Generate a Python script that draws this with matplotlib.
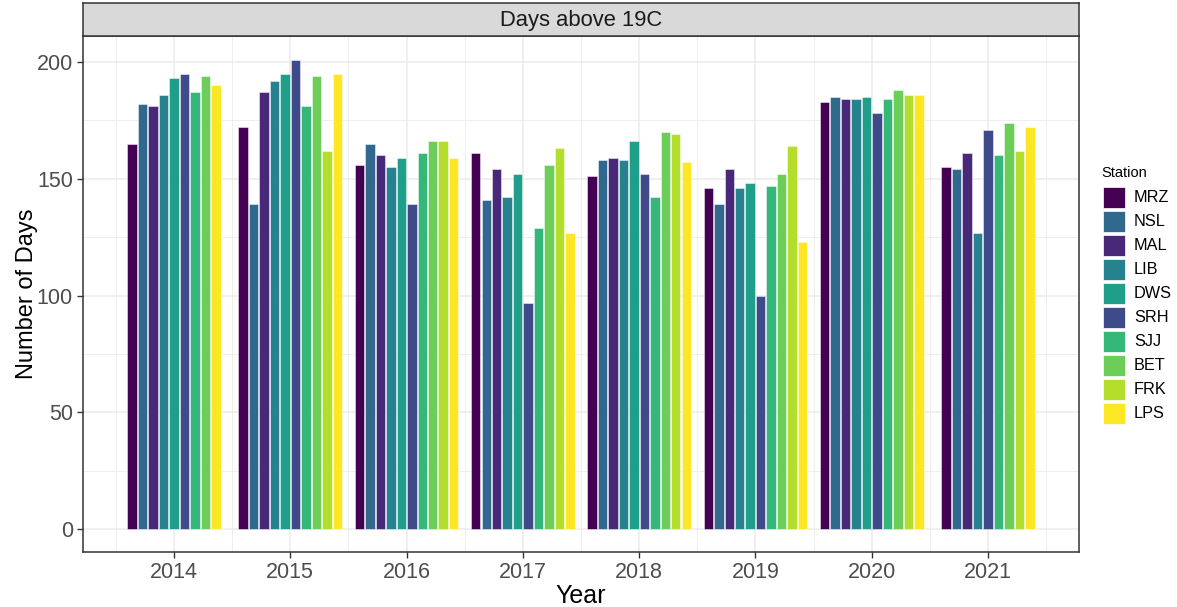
import numpy as np
import matplotlib
matplotlib.use("Agg")
import matplotlib.pyplot as plt
from matplotlib.patches import Rectangle

plt.rcParams["font.family"] = ["Liberation Sans", "DejaVu Sans"]

years = [2014, 2015, 2016, 2017, 2018, 2019, 2020, 2021]
stations = ["MRZ", "NSL", "MAL", "LIB", "DWS", "SRH", "SJJ", "BET", "FRK", "LPS"]
colors = ["#440154", "#31688E", "#482878", "#26828E", "#1F9E89",
          "#3E4A89", "#35B779", "#6DCD59", "#B4DE2C", "#FDE725"]

nan = np.nan
MRZ = [165, 172, 156, 161, 151, 146, 183, 155]
NSL = [182, 139, 165, 141, 158, 139, 185, 154]
MAL = [181, 187, 160, 154, 159, 154, 184, 161]
LIB = [186, 192, 155, 142, 158, 146, 184, 127]
DWS = [193, 195, 159, 152, 166, 148, 185, nan]
SRH = [195, 201, 139, 97, 152, 100, 178, 171]
SJJ = [187, 181, 161, 129, 142, 147, 184, 160]
BET = [194, 194, 166, 156, 170, 152, 188, 174]
FRK = [nan, 162, 166, 163, 169, 164, 186, 162]
LPS = [190, 195, 159, 127, 157, 123, 186, 172]

values = np.array([MRZ, NSL, MAL, LIB, DWS, SRH, SJJ, BET, FRK, LPS], dtype=float)

W, H = 1177, 607
fig = plt.figure(figsize=(W / 100, H / 100), dpi=100)
fig.patch.set_facecolor("white")

px_l, px_r, px_t, px_b = 82.7, 1078.7, 36.0, 552.3
ax = fig.add_axes([px_l / W, 1 - px_b / H, (px_r - px_l) / W, (px_b - px_t) / H])

# dodged bars: each year group is centred, slots keep a fixed width
slot = 0.9 / len(stations)
bar_w = slot * 0.9
for j, yr in enumerate(years):
    present = [i for i in range(len(stations)) if not np.isnan(values[i, j])]
    n = len(present)
    for k, i in enumerate(present):
        x = yr + (k - (n - 1) / 2) * slot
        ax.bar(x, values[i, j], width=bar_w, color=colors[i],
               edgecolor=(1, 1, 1, 0.55), linewidth=0.6, zorder=3)

ax.set_xlim(2013.215, 2021.78)
ax.set_ylim(-9.84, 211.1)

grid_col = "#EBEBEB"
ax.set_xticks(years)
ax.set_xticks([y - 0.5 for y in years] + [years[-1] + 0.5], minor=True)
ax.set_yticks([0, 50, 100, 150, 200])
ax.set_yticks([25, 75, 125, 175], minor=True)
ax.grid(True, which="major", color=grid_col, linewidth=1.1, zorder=0)
ax.grid(True, which="minor", color=grid_col, linewidth=0.6, zorder=0)
ax.set_axisbelow(True)

for s in ax.spines.values():
    s.set_color("#333333")
    s.set_linewidth(1.1)

ax.tick_params(which="major", length=4, width=1.0, color="#333333",
               labelsize=15.5, labelcolor="#4D4D4D", pad=3)
ax.tick_params(which="minor", length=0)

ax.set_xlabel("Year", fontsize=18, color="black", labelpad=1)
ax.set_ylabel("Number of Days", fontsize=17, color="black")
ax.yaxis.set_label_coords((37.5 - px_l) / (px_r - px_l), 0.5)

# facet strip on top of the panel
strip = fig.add_axes([px_l / W, 1 - px_t / H, (px_r - px_l) / W, (px_t - 3.3) / H])
strip.set_facecolor("#D9D9D9")
strip.set_xticks([])
strip.set_yticks([])
for s in strip.spines.values():
    s.set_color("#333333")
    s.set_linewidth(1.1)
strip.text(0.5, 0.47, "Days above 19C", ha="center", va="center",
           fontsize=15.8, color="#1A1A1A", transform=strip.transAxes)

# legend
fig.text(1101 / W, 1 - 173 / H, "Station", fontsize=10.5, color="black",
         ha="left", va="center")
key_x, key_w, key_h, key_y0, key_step = 1103.3, 21.7, 21.7, 186.7, 24.0
for i, (name, c) in enumerate(zip(stations, colors)):
    top = key_y0 + i * key_step
    fig.add_artist(Rectangle((key_x / W, 1 - (top + key_h) / H), key_w / W, key_h / H,
                             transform=fig.transFigure, facecolor=c,
                             edgecolor="white", linewidth=0.5))
    fig.text(1134 / W, 1 - (top + key_h / 2) / H, name, fontsize=11.7,
             color="black", ha="left", va="center")

fig.savefig("out.png", dpi=100)
